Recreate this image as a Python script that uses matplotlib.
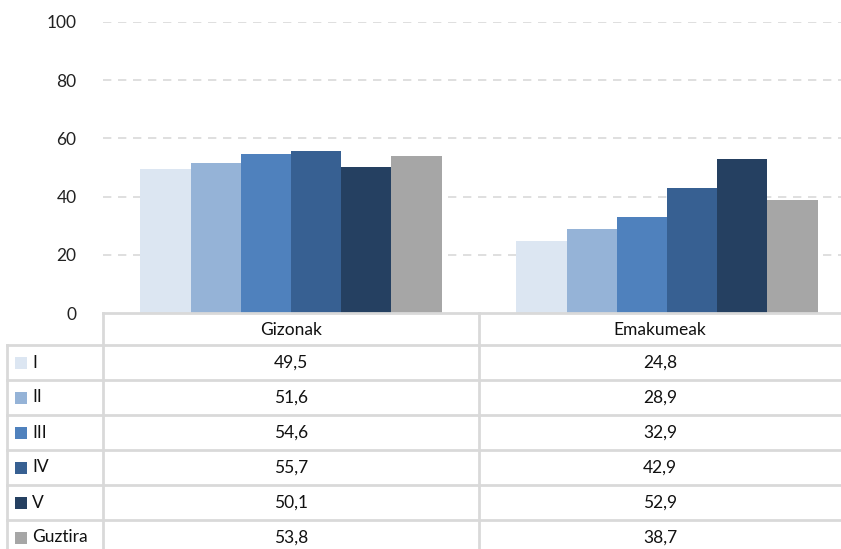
import matplotlib.pyplot as plt
from matplotlib.patches import Rectangle
from matplotlib.lines import Line2D

# data
categories = ['Gizonak', 'Emakumeak']
series = ['I', 'II', 'III', 'IV', 'V', 'Guztira']
values = {
    'I': [49.5, 24.8],
    'II': [51.6, 28.9],
    'III': [54.6, 32.9],
    'IV': [55.7, 42.9],
    'V': [50.1, 52.9],
    'Guztira': [53.8, 38.7],
}
colors = ['#DCE6F2', '#95B3D7', '#4F81BD', '#376092', '#254061', '#A6A6A6']
yticks = [0, 20, 40, 60, 80, 100]

plt.rcParams['font.family'] = ['Lato', 'DejaVu Sans']

W, H = 841, 549
fig = plt.figure(figsize=(W / 100, H / 100), dpi=100)


def fx(px):
    return px / W


def fy(py):
    return 1 - py / H


# plot area
x0, x1 = 103, 841
y0, y1 = 313, 22
cat_px = 376
ax = fig.add_axes([fx(x0), fy(y0), fx(x1 - x0), fy(y1) - fy(y0)])
ax.set_xlim(-0.5, -0.5 + (x1 - x0) / cat_px)
ax.set_ylim(0, 100)

bw = 50.2 / cat_px
n = len(series)
for i, s in enumerate(series):
    xs = [c + (i - (n - 1) / 2) * bw for c in range(len(categories))]
    ax.bar(xs, values[s], width=bw, color=colors[i], zorder=2)

for t in yticks[1:]:
    ax.axhline(t, color='#D9D9D9', lw=1.2, ls=(0, (5, 4)), zorder=1)

ax.set_yticks(yticks)
ax.set_yticklabels([str(t) for t in yticks], fontsize=12.5, color='#222222')
ax.tick_params(axis='y', length=0, pad=19)
ax.set_xticks([])
for sp in ax.spines.values():
    sp.set_visible(False)

# data table
lc = '#D9D9D9'
lw = 2
row_h = 35
header_top = 313
header_bot = 345
col_x = [7, 103, 479, 841]


def hline(y, xa, xb):
    fig.add_artist(Line2D([fx(xa), fx(xb)], [fy(y), fy(y)], color=lc, lw=lw))


def vline(x, ya, yb):
    fig.add_artist(Line2D([fx(x), fx(x)], [fy(ya), fy(yb)], color=lc, lw=lw))


hline(header_top, col_x[1], col_x[3])
for r in range(len(series)):
    hline(header_bot + r * row_h, col_x[0], col_x[3])
vline(col_x[0], header_bot, H + 5)
vline(col_x[1], header_top, H + 5)
vline(col_x[2], header_top, H + 5)

for j, c in enumerate(categories):
    cx = (col_x[j + 1] + col_x[j + 2]) / 2
    fig.text(fx(cx), fy((header_top + header_bot) / 2 + 1), c, ha='center', va='center',
             fontsize=12.5, color='#111111')

for r, s in enumerate(series):
    cy = header_bot + r * row_h + row_h / 2
    fig.add_artist(Rectangle((fx(15), fy(cy + 6)), fx(12), fy(cy - 6) - fy(cy + 6),
                             facecolor=colors[r], edgecolor='none', transform=fig.transFigure))
    fig.text(fx(32), fy(cy), s, ha='left', va='center', fontsize=12.5, color='#111111')
    for j in range(len(categories)):
        cx = (col_x[j + 1] + col_x[j + 2]) / 2
        lab = ('%.1f' % values[s][j]).replace('.', ',')
        fig.text(fx(cx), fy(cy), lab, ha='center', va='center', fontsize=12.5, color='#111111')

fig.savefig('out.png', dpi=100)
